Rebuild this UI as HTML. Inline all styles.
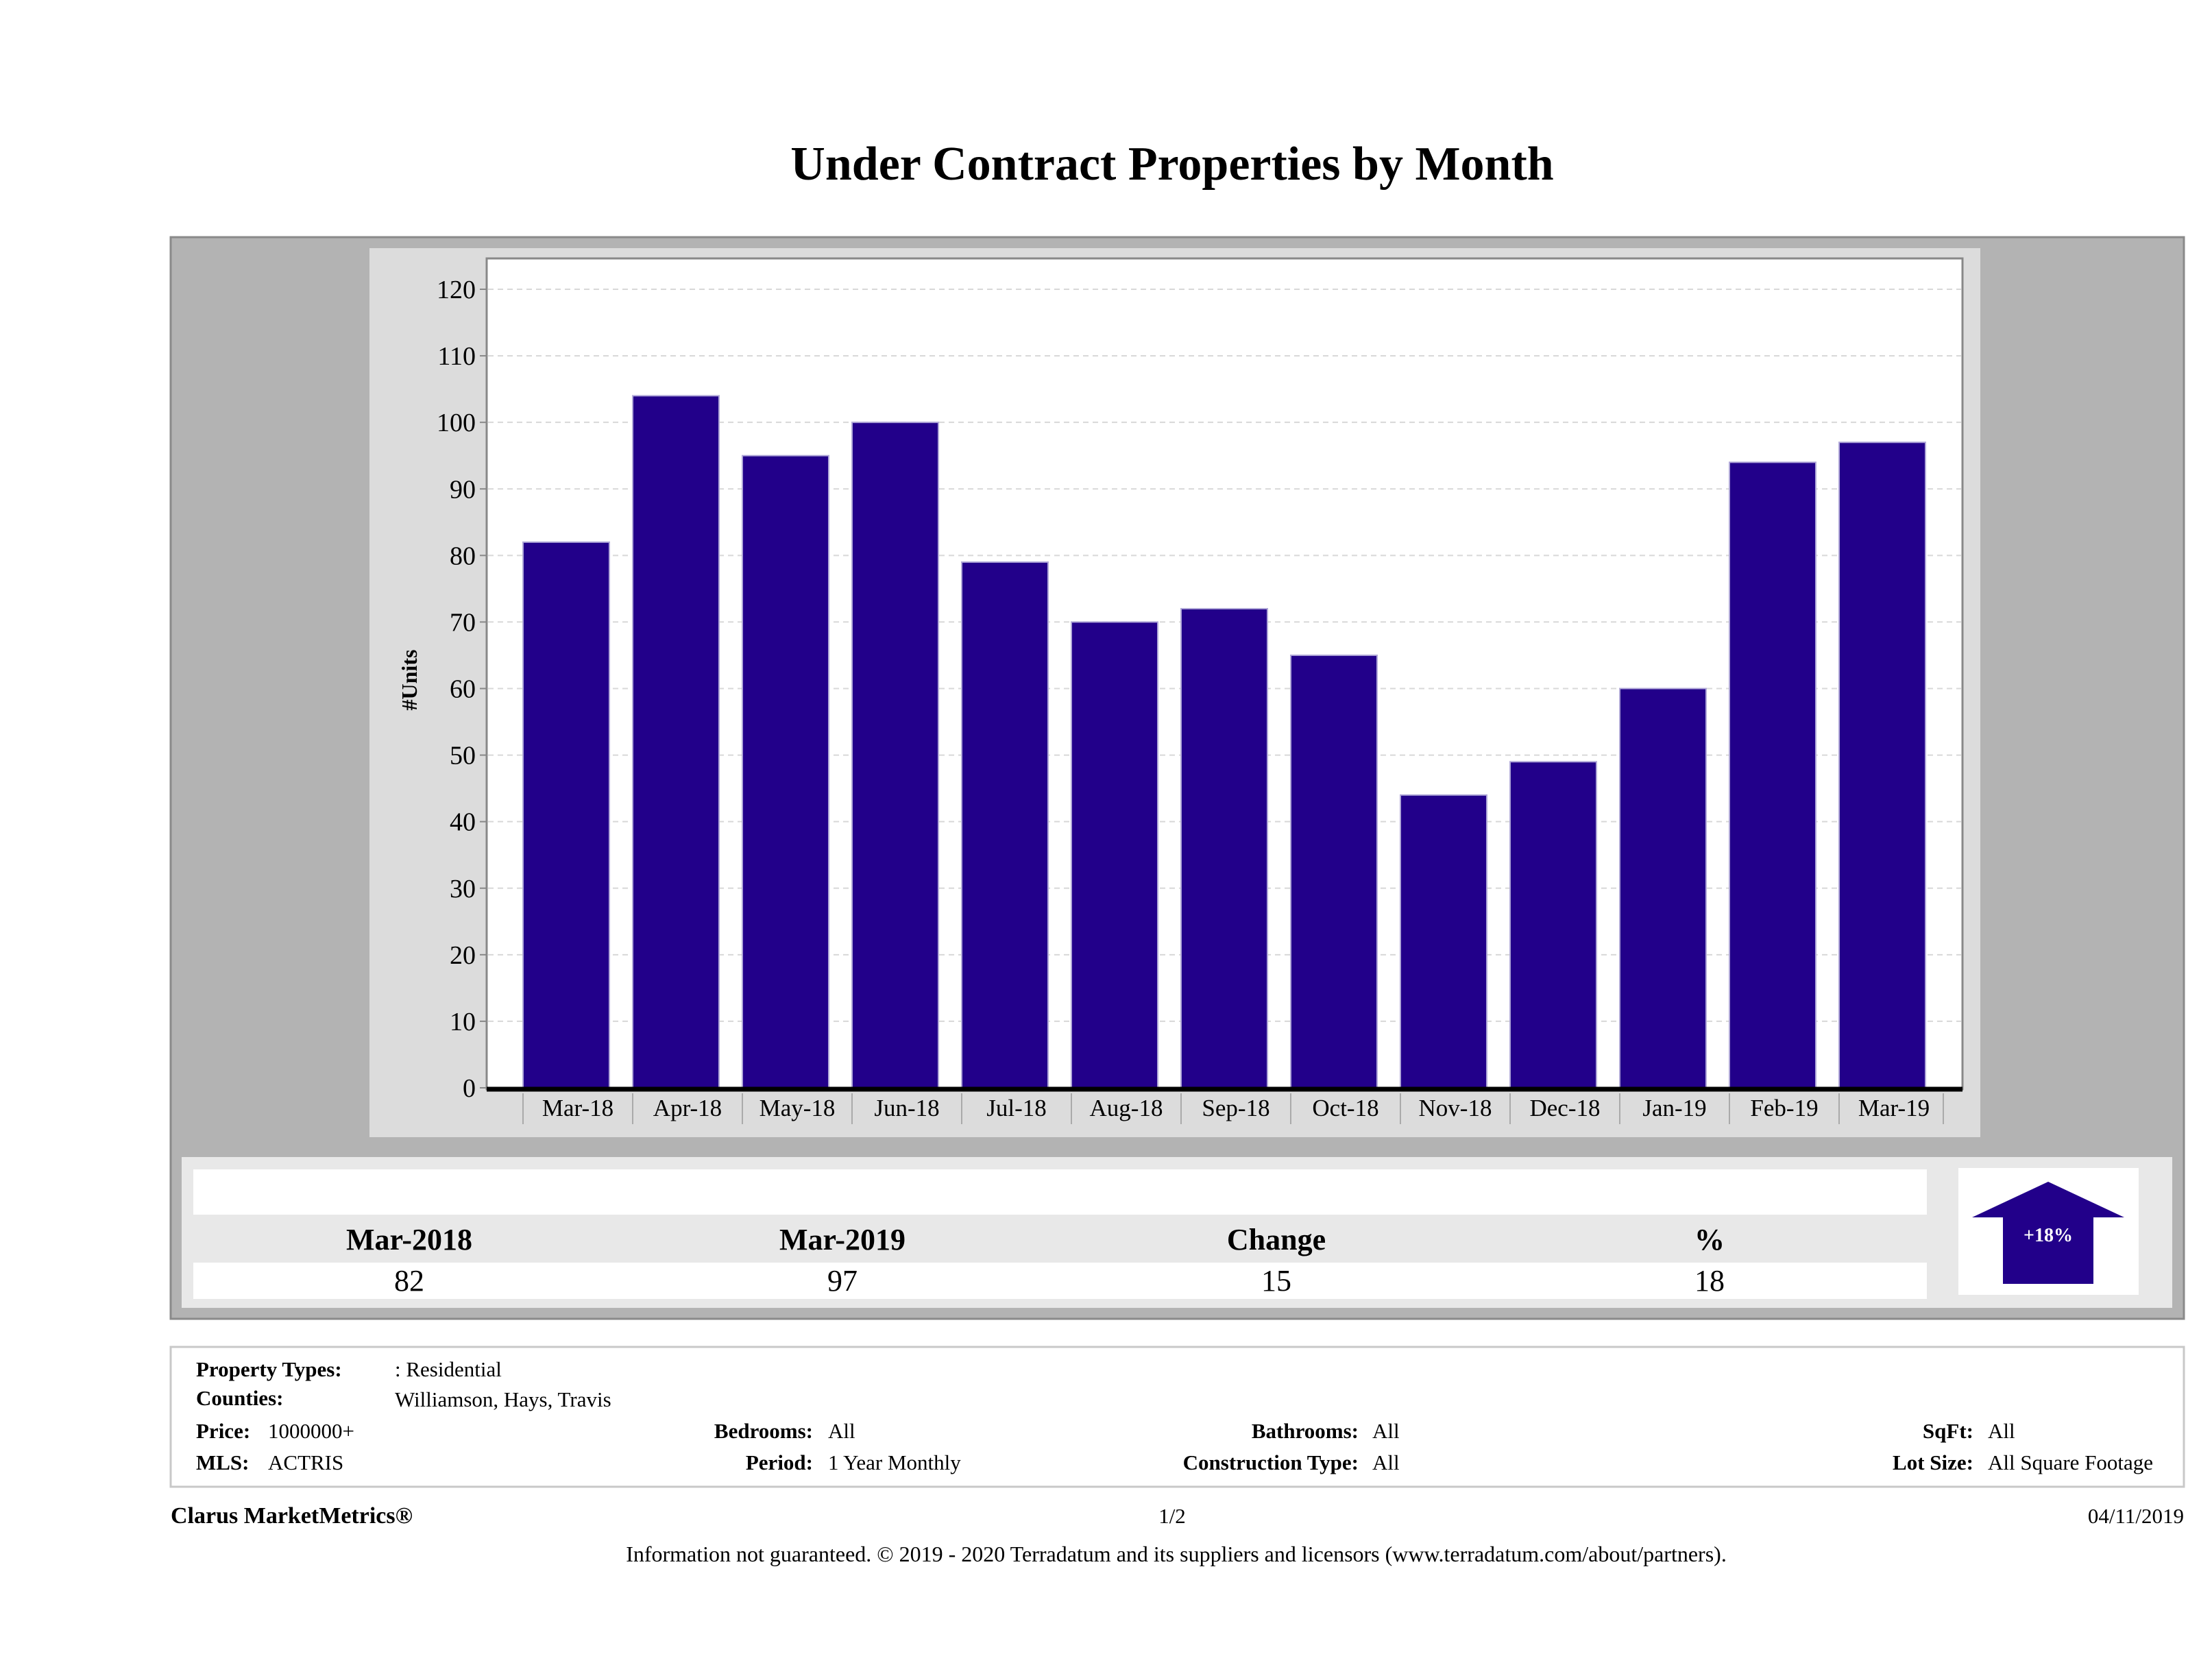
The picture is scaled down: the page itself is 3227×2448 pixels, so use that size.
<!DOCTYPE html>
<html><head><meta charset="utf-8"><style>
html,body{margin:0;padding:0;background:#fff;}
svg{display:block;font-family:"Liberation Serif",serif;}
</style></head><body>
<svg width="3227" height="2448" viewBox="0 0 3227 2448" xmlns="http://www.w3.org/2000/svg">
<text x="1710" y="262" text-anchor="middle" font-size="70" font-weight="bold">Under Contract Properties by Month</text>
<rect x="249" y="346" width="2937" height="1578" fill="#b3b3b3" stroke="#8a8a8a" stroke-width="3"/>
<rect x="539" y="362" width="2350" height="1297" fill="#dcdcdc"/>
<rect x="710" y="377" width="2153" height="1212" fill="#fff" stroke="#888" stroke-width="3"/>
<g id="grid"></g>
<g id="bars"></g>
<g id="yticks"></g>
<g id="xticks"></g>
<line x1="710" y1="1589" x2="2863" y2="1589" stroke="#000" stroke-width="7"/>
<text transform="translate(608,992) rotate(-90)" text-anchor="middle" font-size="32" font-weight="bold">#Units</text>

<rect x="265" y="1688" width="2904" height="220" fill="#e8e8e8"/>
<rect x="282" y="1706" width="2529" height="66" fill="#fff"/>
<rect x="282" y="1842" width="2529" height="53" fill="#fff"/>
<g font-size="44" text-anchor="middle">
<text x="597" y="1823" font-weight="bold">Mar-2018</text>
<text x="1229" y="1823" font-weight="bold">Mar-2019</text>
<text x="1862" y="1823" font-weight="bold">Change</text>
<text x="2494" y="1823" font-weight="bold">%</text>
<text x="597" y="1883">82</text>
<text x="1229" y="1883">97</text>
<text x="1862" y="1883">15</text>
<text x="2494" y="1883">18</text>
</g>
<rect x="2857" y="1704" width="263" height="185" fill="#fff"/>
<polygon points="2988,1724 3099,1776 3054,1776 3054,1873 2922,1873 2922,1776 2877,1776" fill="#22008a"/>
<text x="2988" y="1811" text-anchor="middle" font-size="28" font-weight="bold" fill="#fff">+18%</text>

<rect x="249" y="1965" width="2937" height="204" fill="#fff" stroke="#c8c8c8" stroke-width="3"/>
<g font-size="31">
<text x="286" y="2008" font-weight="bold">Property Types:</text>
<text x="576" y="2008">: Residential</text>
<text x="286" y="2050" font-weight="bold">Counties:</text>
<text x="576" y="2052">Williamson, Hays, Travis</text>
<text x="286" y="2098" font-weight="bold">Price:</text>
<text x="391" y="2098">1000000+</text>
<text x="286" y="2144" font-weight="bold">MLS:</text>
<text x="391" y="2144">ACTRIS</text>
<text x="1186" y="2098" font-weight="bold" text-anchor="end">Bedrooms:</text>
<text x="1208" y="2098">All</text>
<text x="1186" y="2144" font-weight="bold" text-anchor="end">Period:</text>
<text x="1208" y="2144">1 Year Monthly</text>
<text x="1982" y="2098" font-weight="bold" text-anchor="end">Bathrooms:</text>
<text x="2002" y="2098">All</text>
<text x="1982" y="2144" font-weight="bold" text-anchor="end">Construction Type:</text>
<text x="2002" y="2144">All</text>
<text x="2879" y="2098" font-weight="bold" text-anchor="end">SqFt:</text>
<text x="2900" y="2098">All</text>
<text x="2879" y="2144" font-weight="bold" text-anchor="end">Lot Size:</text>
<text x="2900" y="2144">All Square Footage</text>
<text x="249" y="2222" font-weight="bold" font-size="34">Clarus MarketMetrics®</text>
<text x="1710" y="2222" text-anchor="middle">1/2</text>
<text x="3186" y="2222" text-anchor="end">04/11/2019</text>
<text x="1716" y="2278" text-anchor="middle" font-size="32">Information not guaranteed. © 2019 - 2020 Terradatum and its suppliers and licensors (www.terradatum.com/about/partners).</text>
</g>
</svg>
<script>
const categories = ["Mar-18","Apr-18","May-18","Jun-18","Jul-18","Aug-18","Sep-18","Oct-18","Nov-18","Dec-18","Jan-19","Feb-19","Mar-19"];
const unitValues = [82,104,95,100,79,70,72,65,44,49,60,94,97];
const yTickValues = [0,10,20,30,40,50,60,70,80,90,100,110,120];

const NS = "http://www.w3.org/2000/svg";
const y0 = 1587, y120 = 422;
function yScale(v){ return y0 - (v/120)*(y0-y120); }
const bandStart = 763, bandStep = 160, barW = 126;
function xBand(i){ return bandStart + i*bandStep; }
function mk(tag, attrs){ const e=document.createElementNS(NS,tag); for(const k in attrs) e.setAttribute(k,attrs[k]); return e; }

const grid=document.getElementById('grid'), yt=document.getElementById('yticks');
yTickValues.forEach(v=>{
  const y=yScale(v);
  if(v>0){
    const gl=mk('line',{x1:712,x2:2861,y1:y,y2:y,stroke:'#d8d8d8','stroke-width':2,'stroke-dasharray':'8,6'});
    
    
    grid.appendChild(gl);
  }
  const tk=mk('line',{x1:700,x2:710,y1:y,y2:y,stroke:'#888','stroke-width':2});
  
  
  yt.appendChild(tk);
  const t=mk('text',{x:694,y:y+13,'text-anchor':'end','font-size':38});
  t.textContent=v;
  
  
  yt.appendChild(t);
});

const bars=document.getElementById('bars'), xt=document.getElementById('xticks');
categories.forEach((c,i)=>{
  const x=xBand(i), y=yScale(unitValues[i]);
  const r=mk('rect',{x:x,y:y,width:barW,height:y0-y,fill:'#22008a',stroke:'#b0a8d8','stroke-width':2});
  
  
  bars.appendChild(r);
  const sep=mk('line',{x1:x,x2:x,y1:1595,y2:1640,stroke:'#aaa','stroke-width':2});
  
  
  xt.appendChild(sep);
  const t=mk('text',{x:x+bandStep/2,y:1628,'text-anchor':'middle','font-size':35});
  t.textContent=c;
  
  
  xt.appendChild(t);
});
const last=mk('line',{x1:xBand(categories.length)-8,x2:xBand(categories.length)-8,y1:1595,y2:1640,stroke:'#aaa','stroke-width':2});


xt.appendChild(last);
</script>
</body></html>
